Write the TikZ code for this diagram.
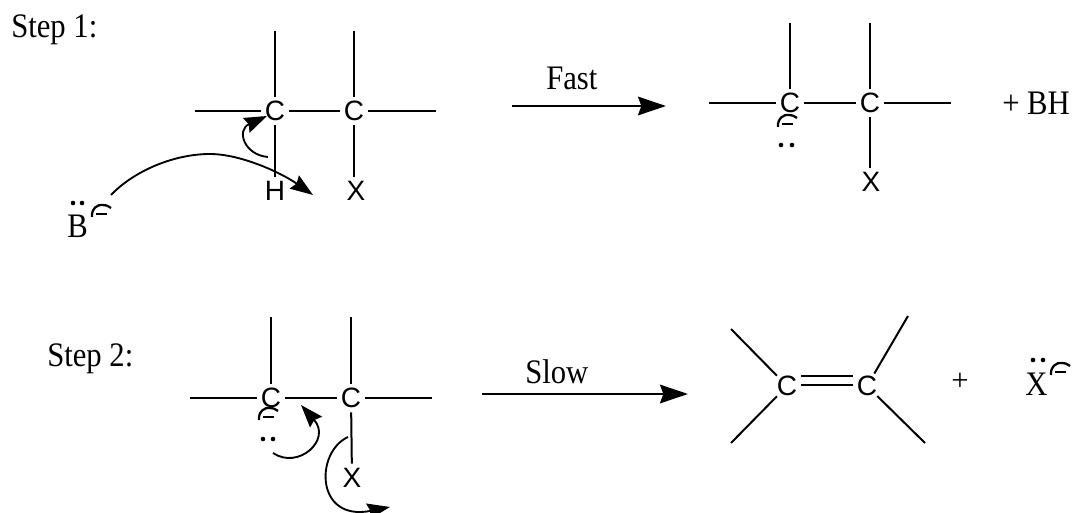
\documentclass[tikz,border=0pt]{standalone}
\usepackage{fontspec}
\usepackage{graphicx}
\setmainfont{Liberation Serif}
\newfontfamily\atomfont{Liberation Sans}
\usetikzlibrary{arrows.meta}
\newcommand{\tallsf}[1]{\scalebox{1}[1.12]{#1}}
\tikzset{
  x=0.75pt, y=-0.75pt,
  atom/.style={circle, inner sep=0pt, minimum size=21pt, font=\atomfont\fontsize{21}{23}\selectfont},
  serif/.style={inner sep=0pt, anchor=base west, font=\fontsize{23}{26}\selectfont},
  bond/.style={line width=1.5pt},
  rxn/.style={line width=1.5pt, -{Stealth[length=21pt,width=14pt,inset=2.5pt]}},
  curly/.style={line width=1.4pt, -{Stealth[length=17pt,width=12pt,inset=2pt]}},
  pairdot/.style={fill=black, draw=none},
  charge/.pic={
    \draw[line width=1.7pt] (-9,12) .. controls (-10,3) and (-2,-1) .. (1,0) .. controls (5,0) and (8,1) .. (10,3);
    \draw[line width=1.4pt] (-5,9) -- (6,9);
  }
}
\begin{document}
\begin{tikzpicture}
\clip (0,0) rectangle (1074,513);
% texts
\node[serif] (s1) at (11,38) {\tallsf{Step 1:}};
\node[serif] (s2) at (47,366) {\tallsf{Step 2:}};
\node[serif] (fast) at (546,90) {\tallsf{Fast}};
\node[serif] (slow) at (525,383) {\tallsf{Slow}};
\node[serif] (bh) at (1002,115) {\tallsf{+ BH}};
\node[serif] (base) at (67,238) {\tallsf{B}};
\node[serif] (xm) at (1025,395) {\tallsf{X}};
\node[inner sep=0pt, font=\fontsize{23}{26}\selectfont] (pl) at (960,382) {+};
% step 1 reactant
\node[atom] (a1) at (275,111) {C};
\node[atom] (a2) at (354,111) {C};
\node[atom] (ah) at (275,191) {H};
\node[atom] (ax) at (356,191) {X};
\coordinate (a1t) at (275,31); \coordinate (a2t) at (354,31);
\coordinate (a1l) at (195,111); \coordinate (a2r) at (436,111);
\draw[bond] (a1) -- (a1t); \draw[bond] (a2) -- (a2t);
\draw[bond] (a1) -- (a1l); \draw[bond] (a2) -- (a2r);
\draw[bond] (a1) -- (a2); \draw[bond] (a1) -- (ah);
\draw[bond] (a2) -- (354,177);
% step 1 product
\node[atom] (b1) at (790,103) {C};
\node[atom] (b2) at (870,103) {C};
\node[atom] (bx) at (871,182) {X};
\coordinate (b1t) at (790,23); \coordinate (b2t) at (870,23);
\coordinate (b1l) at (709,103); \coordinate (b2r) at (951,103);
\draw[bond] (b1) -- (b1t); \draw[bond] (b2) -- (b2t);
\draw[bond] (b1) -- (b1l); \draw[bond] (b2) -- (b2r);
\draw[bond] (b1) -- (b2); \draw[bond] (b2) -- (870,168);
% step 2 reactant
\node[atom] (c1) at (271,398) {C};
\node[atom] (c2) at (351,398) {C};
\node[atom] (cx) at (352,478) {X};
\coordinate (c1t) at (271,317); \coordinate (c2t) at (351,317);
\coordinate (c1l) at (190,398); \coordinate (c2r) at (432,398);
\draw[bond] (c1) -- (c1t); \draw[bond] (c2) -- (c2t);
\draw[bond] (c1) -- (c1l); \draw[bond] (c2) -- (c2r);
\draw[bond] (c1) -- (c2); \draw[bond] (c2) -- (cx);
% alkene
\node[atom] (d1) at (787,386) {C};
\node[atom] (d2) at (867,386) {C};
\coordinate (d1u) at (731,329); \coordinate (d1d) at (731,443);
\coordinate (d2u) at (908,316); \coordinate (d2d) at (925,443);
\draw[bond] (d1) -- (d1u); \draw[bond] (d1) -- (d1d);
\draw[bond] (d2) -- (d2u); \draw[bond] (d2) -- (d2d);
\draw[bond] ([yshift=7.5pt]d1.east) -- ([yshift=7.5pt]d2.west);
\draw[bond] ([yshift=0.75pt]d1.east) -- ([yshift=0.75pt]d2.west);
% reaction arrows
\coordinate (f1) at (512,106); \coordinate (f2) at (666,106);
\coordinate (g1) at (482,394); \coordinate (g2) at (688,394);
\draw[rxn] (f1) -- (f2);
\draw[rxn] (g1) -- (g2);
% curly arrows
\coordinate (p1) at (111,195); \coordinate (p2) at (313,195);
\draw[curly] (p1) .. controls (135,170) and (175,154) .. (210,154) .. controls (240,154) and (280,172) .. (p2);
\coordinate (q1) at (268,157); \coordinate (q2) at (267,116);
\draw[curly] (q1) .. controls (244,155) and (236,130) .. (q2);
\coordinate (r1) at (273,453); \coordinate (r2) at (301,405);
\draw[curly] (r1) .. controls (298,470) and (332,440) .. (r2);
\coordinate (t1) at (348,437); \coordinate (t2) at (390,507);
\draw[curly] (t1) .. controls (315,452) and (315,522) .. (t2);
% lone pairs and charges
\foreach \px/\py in {73/203,82/203,781/145,792/145,263/439,273/439,1033/360,1043/360}
  \fill[pairdot] (\px,\py) circle[radius=2.3];
\pic at (101,205) {charge};
\pic at (787,115) {charge};
\pic at (268,408) {charge};
\pic at (1060,363) {charge};
\end{tikzpicture}
\end{document}
